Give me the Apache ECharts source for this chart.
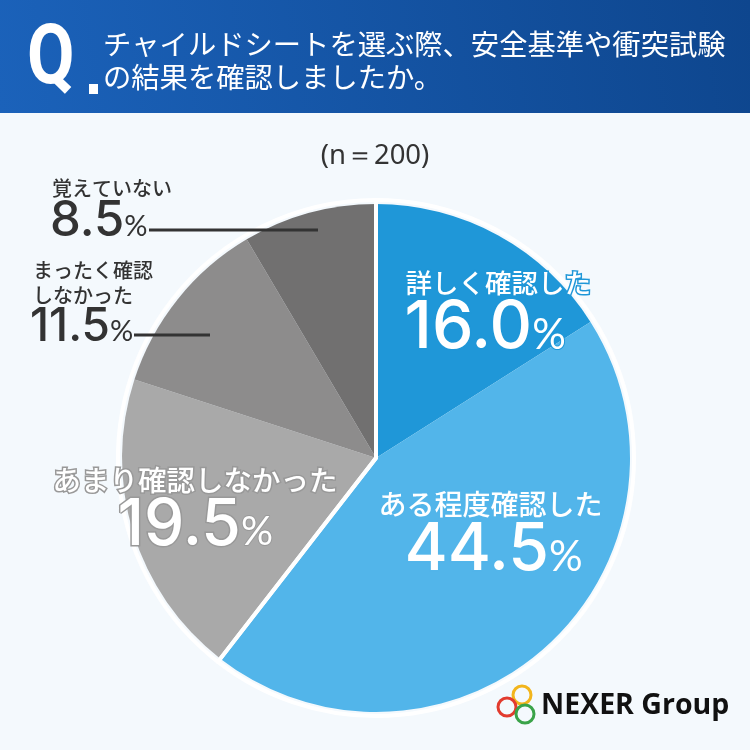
<!DOCTYPE html>
<html><head><meta charset="utf-8">
<script src="https://cdn.jsdelivr.net/npm/echarts@6/dist/echarts.min.js"></script>
<style>html,body{margin:0;padding:0;background:#f4f9fd}#c{width:750px;height:750px}</style>
</head><body><div id="c"></div>
<script>
const categories = ['詳しく確認した','ある程度確認した','あまり確認しなかった','まったく確認しなかった','覚えていない'];
const values = [16.0, 44.5, 19.5, 11.5, 8.5];
const colors = ['#1f97d8','#52b5ea','#a9a9a9','#8d8c8c','#717070'];
const groups = [0,0,1,1,1];
const titleLine1 = 'チャイルドシートを選ぶ際、安全基準や衝突試験';
const titleLine2 = 'の結果を確認しましたか。';
const sampleText = '(n＝200)';

const JP = '"Noto Sans CJK JP", sans-serif';
const NUM = 'Inter, Lato, "Noto Sans", sans-serif';
const PCT = 'Lato, "Noto Sans", sans-serif';
const groupSums = [0,0];
values.forEach((v,i)=>{groupSums[groups[i]] += v;});
const fmt = v => v.toFixed(1);

function valText(x,y,i,fill,stroke,big,small){
  return {type:'text', left:x, top:y, z:100, style:{
    text:'{n|'+fmt(values[i])+'}{p|%}',
    rich:{
      n:{fontFamily:NUM,fontSize:big,fontWeight:500,fill:fill,stroke:stroke,lineWidth:stroke?3:0},
      p:{fontFamily:PCT,fontSize:small,fontWeight:400,fill:fill,stroke:stroke,lineWidth:stroke?2:0,padding:[big*0.2,0,0,0]}
    }}};
}
function catText(x,y,str,fill,stroke,size){
  return {type:'text', left:x, top:y, z:100, style:{text:str,fontFamily:JP,fontSize:size,fontWeight:500,fill:fill,stroke:stroke||null,lineWidth:stroke?3:0,lineHeight:size*1.25}};
}

const chart = echarts.init(document.getElementById('c'));
chart.setOption({
  backgroundColor:'#f4f9fd',
  animation:false,
  graphic:[
    {type:'rect', shape:{x:0,y:0,width:750,height:113}, z:0,
      style:{fill:new echarts.graphic.LinearGradient(0,1,1,0,[{offset:0,color:'#1b62ba'},{offset:1,color:'#0e468e'}])}},
    {type:'text', x:27, y:20, scaleX:0.82, z:10, style:{text:'Q',fontFamily:'Roboto, sans-serif',fontSize:84,fontWeight:'bold',fill:'#fff'}},
    {type:'rect', shape:{x:89,y:84,width:9,height:10}, z:10, style:{fill:'#fff'}},
    {type:'text', left:103, top:30, z:10, style:{text:titleLine1,fontFamily:JP,fontSize:28.3,fontWeight:400,fill:'#fff'}},
    {type:'text', left:103, top:63, z:10, style:{text:titleLine2,fontFamily:JP,fontSize:28.3,fontWeight:400,fill:'#fff'}},
    {type:'text', left:'center', top:142, z:10, style:{text:sampleText,fontFamily:'"Noto Sans", sans-serif',fontSize:27.5,fill:'#333'}},
    // labels
    catText(404,266,categories[0],'#fff','#1f97d8',26.5),
    valText(403,294,0,'#fff','#1f97d8',66,42),
    catText(377,487,categories[1],'#fff','#52b5ea',28),
    valText(403,516,1,'#fff','#52b5ea',66,42),
    catText(51,462,categories[2],'#fff','#999',28.5),
    valText(116,492,2,'#fff','#999',64,40),
    catText(33,258,'まったく確認\nしなかった','#333',null,20),
    valText(30,304,3,'#333',null,46,29),
    {type:'line', shape:{x1:134,y1:335,x2:210,y2:335}, z:100, style:{stroke:'#333',lineWidth:3}},
    catText(52,176,'覚えていない','#333',null,20),
    valText(50,197,4,'#333',null,49,29),
    {type:'line', shape:{x1:149,y1:230,x2:318,y2:230}, z:100, style:{stroke:'#333',lineWidth:3}},
    // logo
    {type:'circle', shape:{cx:522,cy:695,r:9}, z:10, style:{fill:'none',stroke:'#f2b51c',lineWidth:3}},
    {type:'circle', shape:{cx:507,cy:707,r:9}, z:10, style:{fill:'none',stroke:'#e23b2e',lineWidth:3}},
    {type:'circle', shape:{cx:525,cy:714,r:9}, z:10, style:{fill:'none',stroke:'#3aa349',lineWidth:3}},
    {type:'text', left:541, top:691, z:10, style:{text:'NEXER Group',fontFamily:'"Open Sans", sans-serif',fontSize:28.5,fontWeight:'bold',fill:'#111'}}
  ],
  series:[
    {type:'pie', center:[376,458], radius:[0,254], startAngle:90, clockwise:true, silent:true,
     label:{show:false}, labelLine:{show:false}, z:2,
     data: categories.map((c,i)=>({name:c,value:values[i],itemStyle:{color:colors[i]}}))},
    {type:'pie', center:[376,458], radius:[0,258], startAngle:90, clockwise:true, silent:true,
     label:{show:false}, labelLine:{show:false}, z:3,
     data: groupSums.map((v,i)=>({name:'g'+i,value:v,itemStyle:{color:'rgba(0,0,0,0)',borderColor:'#fff',borderWidth:4}}))}
  ]
});
</script></body></html>
